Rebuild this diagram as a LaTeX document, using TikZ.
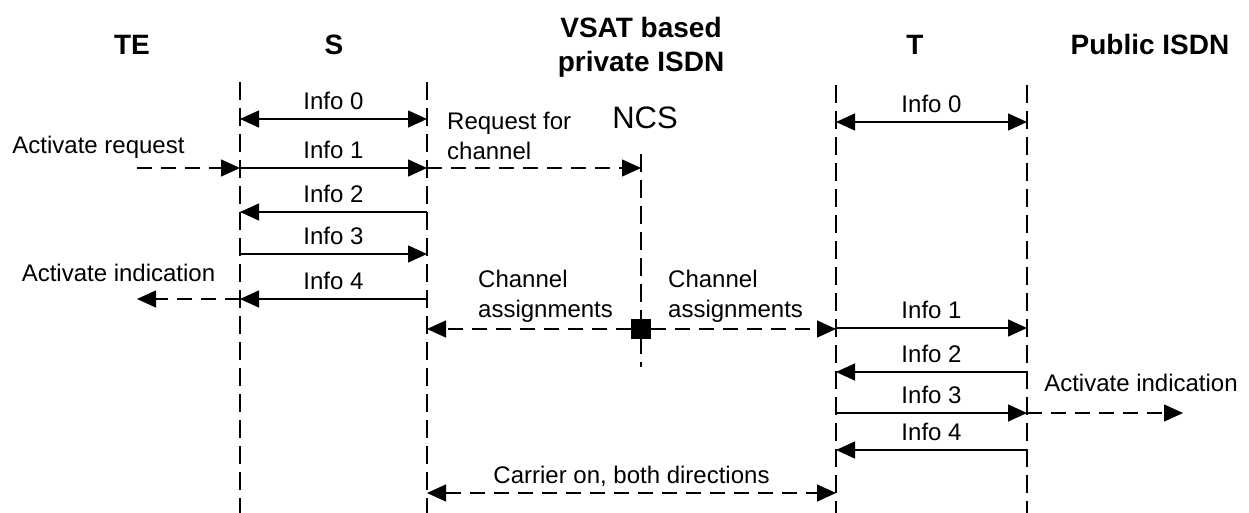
\documentclass[tikz,border=0pt]{standalone}
\usepackage{fontspec}
\setmainfont{Liberation Sans}
\usetikzlibrary{arrows.meta}

\tikzset{
  lifeline/.style={line width=1.3pt, dash pattern=on 18pt off 8pt},
  sig/.style={line width=1.3pt, -{Triangle[length=19pt,width=17pt]}},
  sigboth/.style={line width=1.3pt, {Triangle[length=19pt,width=17pt]}-{Triangle[length=19pt,width=17pt]}},
  dashsig/.style={sig, dash pattern=on 15pt off 9pt},
  dashboth/.style={sigboth, dash pattern=on 15pt off 9pt},
  head/.style={font=\fontsize{28}{34}\selectfont\bfseries, inner sep=0pt, anchor=base},
  lbl/.style={font=\fontsize{24}{30}\selectfont, inner sep=0pt, anchor=base},
  lblleft/.style={lbl, align=left, anchor=base west},
}

% message arrow between two lifelines with its label centred above
% #1 style, #2 start x, #3 end x, #4 y, #5 label
\newcommand{\msgarrow}[5]{%
  \draw[#1] (#2,#4) -- (#3,#4);
  \node[lbl] at ({(#2+#3)/2},#4-9.5) {#5};
}

\begin{document}
\begin{tikzpicture}[x=1pt,y=-1pt]
\useasboundingbox (0,0) rectangle (1249,513);

% column headers (multi-line nodes sit on the baseline of their last line)
\node[head] (hTE)  at (132,55) {TE};
\node[head] (hS)   at (334,55) {S};
\node[head, align=center] (hV) at (641,72) {VSAT based\\private ISDN};
\node[head] (hT)   at (915,55) {T};
\node[head] (hP)   at (1150,55) {Public ISDN};
\node[font=\fontsize{31}{36}\selectfont, inner sep=0pt, anchor=base] (ncs) at (645,129) {NCS};

% lifelines
\draw[lifeline] (240,82) -- (240,513);
\draw[lifeline] (427,82) -- (427,513);
\draw[lifeline] (641,154) -- (641,367);
\draw[lifeline] (836,85) -- (836,513);
\draw[lifeline] (1027,85) -- (1027,513);

% S interface activation
\msgarrow{sigboth}{240}{427}{119}{Info 0}
\msgarrow{sig}{240}{427}{168}{Info 1}
\msgarrow{sig}{427}{240}{212}{Info 2}
\msgarrow{sig}{240}{427}{254}{Info 3}
\msgarrow{sig}{427}{240}{299}{Info 4}

\node[lbl] (actreq) at (98.5,153.5) {Activate request};
\draw[dashsig] (137,168) -- (240,168);
\node[lbl] (actind1) at (118.5,281.5) {Activate indication};
\draw[dashsig] (240,299) -- (137,299);

% channel request to the NCS
\node[lblleft] (req) at (447,160) {Request for\\channel};
\draw[dashsig] (427,168) -- (641,168);

% channel assignments from the NCS
\node[fill=black, minimum size=20pt, inner sep=0pt] (sq) at (641,329) {};
\coordinate (caL) at (427,329);
\coordinate (caR) at (836,329);
\draw[dashsig] (sq.west) -- (caL);
\draw[dashsig] (sq.east) -- (caR);
\node[lblleft] (ca1) at (478,317) {Channel\\assignments};
\node[lblleft] (ca2) at (668,317) {Channel\\assignments};

% T interface activation
\msgarrow{sigboth}{836}{1027}{122}{Info 0}
\msgarrow{sig}{836}{1027}{328}{Info 1}
\msgarrow{sig}{1027}{836}{372}{Info 2}
\msgarrow{sig}{836}{1027}{413}{Info 3}
\msgarrow{sig}{1027}{836}{450}{Info 4}

\node[lbl] (actind2) at (1141,391.5) {Activate indication};
\draw[dashsig] (1027,413) -- (1183,413);

% satellite carrier
\msgarrow{dashboth}{427}{836}{493}{Carrier on, both directions}

\end{tikzpicture}
\end{document}
